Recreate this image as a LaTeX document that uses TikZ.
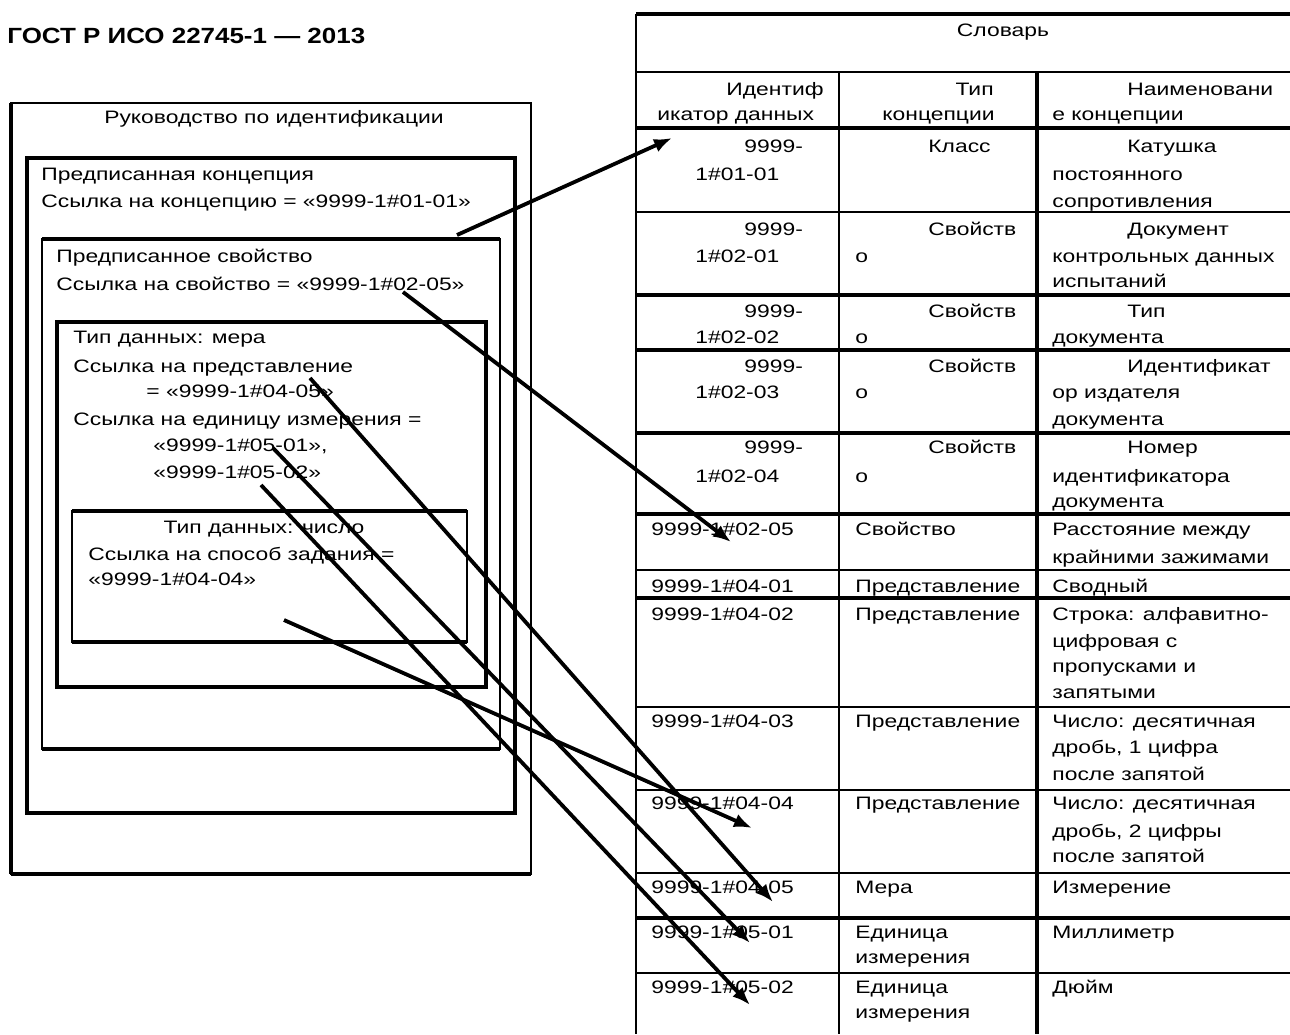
\documentclass[tikz,border=0pt]{standalone}
\usepackage{fontspec}
\setmainfont{Liberation Sans}[FakeStretch=1.27]
\newfontfamily\titlefont{Liberation Sans}[FakeStretch=1.18]
\usetikzlibrary{arrows.meta}
\tikzset{
  txt/.style={inner sep=0pt, font=\fontsize{9pt}{14pt}\selectfont},
  lbl/.style={txt, anchor=base west},
  rlbl/.style={txt, anchor=base east},
  clbl/.style={txt, anchor=base},
  ttl/.style={inner sep=0pt, anchor=base west, font=\titlefont\fontsize{11pt}{13pt}\selectfont\bfseries},
  thin/.style={line width=1pt},
  refarrow/.style={line width=1.9pt, -{Latex[length=9pt,width=7pt]}}
}
\begin{document}
\begin{tikzpicture}[x=0.5pt,y=-0.5pt]
\useasboundingbox (0,0) rectangle (1290,1034);
\fill[white] (0,0) rectangle (1290,1034);

% title
\node[ttl] (title) at (7,43) {ГОСТ Р ИСО 22745-1 — 2013};

% nested boxes
\draw[line width=1.1pt] (11,103) rectangle (531,874);
\draw[line width=1.8pt] (11,874) -- (531,874) (11,103) -- (11,874);
\draw[line width=1.9pt] (27,158) rectangle (515,813);
\draw[line width=1.1pt] (42,239) rectangle (500,749);
\draw[line width=1.9pt] (42,239) -- (500,239) (42,749) -- (500,749);
\draw[line width=1.8pt] (57,322) rectangle (486,687);
\draw[line width=1.3pt] (72,511) rectangle (467,642);
\draw[line width=1.9pt] (72,511) -- (467,511) (72,642) -- (467,642);

\node[clbl] (guide) at (274,123) {Руководство по идентификации};
\node[lbl] (pc1) at (41,180) {Предписанная концепция};
\node[lbl] (pc2) at (41,207) {Ссылка на концепцию = «9999-1\#01-01»};
\node[lbl] (ps1) at (56,262) {Предписанное свойство};
\node[lbl] (ps2) at (56,290) {Ссылка на свойство = «9999-1\#02-05»};
\node[lbl] (m1) at (73,343) {Тип данных: мера};
\node[lbl] (m2) at (73,372) {Ссылка на представление};
\node[lbl] (m3) at (146,397) {= «9999-1\#04-05»};
\node[lbl] (m4) at (73,425) {Ссылка на единицу измерения =};
\node[lbl] (m5) at (153,451) {«9999-1\#05-01»,};
\node[lbl] (m6) at (153,478) {«9999-1\#05-02»};
\node[clbl] (n1) at (264,533) {Тип данных: число};
\node[lbl] (n2) at (88,560) {Ссылка на способ задания =};
\node[lbl] (n3) at (88,585) {«9999-1\#04-04»};

% table lines
\draw[line width=1.7pt] (636,14) -- (1290,14);
\draw[line width=1.1pt] (636,14) -- (636,1034);
\draw[thin] (636,72) -- (1290,72);
\draw[line width=1.3pt] (839,72) -- (839,1034);
\draw[line width=2.1pt] (1037,72) -- (1037,1034);
\foreach \yy/\w in {128/1.8,212/1.2,295/1.6,350/1.8,433/1.8,514/1.9,570/1.2,598/1.7,707/1.2,790/1.2,873/1.2,918/2.0,973/1.2}
  \draw[line width=\w pt] (636,\yy) -- (1290,\yy);

% header
\node[clbl] (dict) at (1003,36) {Словарь};
\node[rlbl] (h1a) at (824,95) {Идентиф};
\node[lbl] (h1b) at (657,120) {икатор данных};
\node[rlbl] (h2a) at (994,95) {Тип};
\node[lbl] (h2b) at (882,120) {концепции};
\node[lbl] (h3a) at (1127,95) {Наименовани};
\node[lbl] (h3b) at (1052,120) {е концепции};

% row 01-01
\node[lbl] (r1a) at (744,152) {9999-};
\node[lbl] (r1b) at (695,180) {1\#01-01};
\node[lbl] (r1c) at (928,152) {Класс};
\node[lbl] (r1d) at (1127,152) {Катушка};
\node[lbl] (r1e) at (1052,180) {постоянного};
\node[lbl] (r1f) at (1052,207) {сопротивления};
% row 02-01
\node[lbl] (r2a) at (744,235) {9999-};
\node[lbl] (r2b) at (695,262) {1\#02-01};
\node[lbl] (r2c) at (928,235) {Свойств};
\node[lbl] (r2d) at (855,262) {о};
\node[lbl] (r2e) at (1127,235) {Документ};
\node[lbl] (r2f) at (1052,262) {контрольных данных};
\node[lbl] (r2g) at (1052,287) {испытаний};
% row 02-02
\node[lbl] (r3a) at (744,317) {9999-};
\node[lbl] (r3b) at (695,343) {1\#02-02};
\node[lbl] (r3c) at (928,317) {Свойств};
\node[lbl] (r3d) at (855,343) {о};
\node[lbl] (r3e) at (1127,317) {Тип};
\node[lbl] (r3f) at (1052,343) {документа};
% row 02-03
\node[lbl] (r4a) at (744,372) {9999-};
\node[lbl] (r4b) at (695,398) {1\#02-03};
\node[lbl] (r4c) at (928,372) {Свойств};
\node[lbl] (r4d) at (855,398) {о};
\node[lbl] (r4e) at (1127,372) {Идентификат};
\node[lbl] (r4f) at (1052,398) {ор издателя};
\node[lbl] (r4g) at (1052,425) {документа};
% row 02-04
\node[lbl] (r5a) at (744,453) {9999-};
\node[lbl] (r5b) at (695,482) {1\#02-04};
\node[lbl] (r5c) at (928,453) {Свойств};
\node[lbl] (r5d) at (855,482) {о};
\node[lbl] (r5e) at (1127,453) {Номер};
\node[lbl] (r5f) at (1052,482) {идентификатора};
\node[lbl] (r5g) at (1052,507) {документа};
% row 02-05
\node[lbl] (r6a) at (651,535) {9999-1\#02-05};
\node[lbl] (r6c) at (855,535) {Свойство};
\node[lbl] (r6e) at (1052,535) {Расстояние между};
\node[lbl] (r6f) at (1052,563) {крайними зажимами};
% row 04-01
\node[lbl] (r7a) at (651,592) {9999-1\#04-01};
\node[lbl] (r7c) at (855,592) {Представление};
\node[lbl] (r7e) at (1052,592) {Сводный};
% row 04-02
\node[lbl] (r8a) at (651,620) {9999-1\#04-02};
\node[lbl] (r8c) at (855,620) {Представление};
\node[lbl] (r8e) at (1052,620) {Строка: алфавитно-};
\node[lbl] (r8f) at (1052,647) {цифровая с};
\node[lbl] (r8g) at (1052,672) {пропусками и};
\node[lbl] (r8h) at (1052,698) {запятыми};
% row 04-03
\node[lbl] (r9a) at (651,727) {9999-1\#04-03};
\node[lbl] (r9c) at (855,727) {Представление};
\node[lbl] (r9e) at (1052,727) {Число: десятичная};
\node[lbl] (r9f) at (1052,753) {дробь, 1 цифра};
\node[lbl] (r9g) at (1052,780) {после запятой};
% row 04-04
\node[lbl] (r10a) at (651,809) {9999-1\#04-04};
\node[lbl] (r10c) at (855,809) {Представление};
\node[lbl] (r10e) at (1052,809) {Число: десятичная};
\node[lbl] (r10f) at (1052,837) {дробь, 2 цифры};
\node[lbl] (r10g) at (1052,862) {после запятой};
% row 04-05
\node[lbl] (r11a) at (651,893) {9999-1\#04-05};
\node[lbl] (r11c) at (855,893) {Мера};
\node[lbl] (r11e) at (1052,893) {Измерение};
% row 05-01
\node[lbl] (r12a) at (651,938) {9999-1\#05-01};
\node[lbl] (r12c) at (855,938) {Единица};
\node[lbl] (r12d) at (855,963) {измерения};
\node[lbl] (r12e) at (1052,938) {Миллиметр};
% row 05-02
\node[lbl] (r13a) at (651,993) {9999-1\#05-02};
\node[lbl] (r13c) at (855,993) {Единица};
\node[lbl] (r13d) at (855,1018) {измерения};
\node[lbl] (r13e) at (1052,993) {Дюйм};

% arrow endpoints
\coordinate (s1) at (457,235);  \coordinate (e1) at (672,138);
\coordinate (s2) at (403,292);  \coordinate (e2) at (731,542);
\coordinate (s3) at (310,378);  \coordinate (e3) at (773,902);
\coordinate (s4) at (273,448);  \coordinate (e4) at (750,943);
\coordinate (s5) at (261,485);  \coordinate (e5) at (750,1005);
\coordinate (s6) at (284,620);  \coordinate (e6) at (752,828);
\foreach \i in {1,...,6} \draw[refarrow] (s\i) -- (e\i);
\end{tikzpicture}
\end{document}
